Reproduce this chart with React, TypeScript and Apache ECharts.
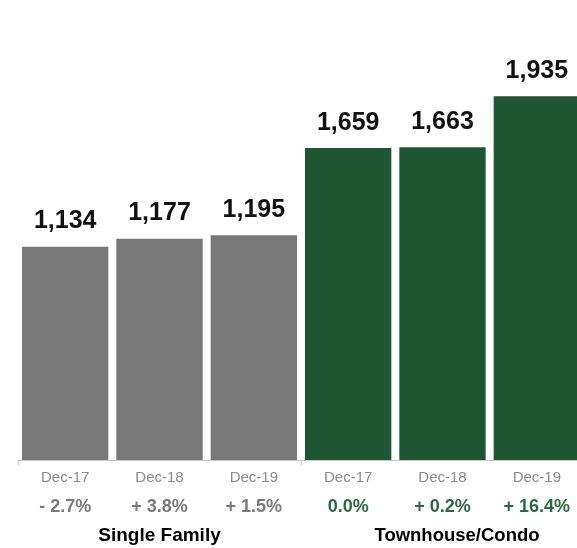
import React, { useEffect, useRef } from "react";
import * as echarts from "echarts";

const categories = ["Dec-17", "Dec-18", "Dec-19", "Dec-17", "Dec-18", "Dec-19"];
const values = [1134, 1177, 1195, 1659, 1663, 1935];
const changes = ["- 2.7%", "+ 3.8%", "+ 1.5%", "0.0%", "+ 0.2%", "+ 16.4%"];
const groups = ["Single Family", "Townhouse/Condo"];
const groupSize = 3;

const GRAY = "#787878";
const GREEN = "#1e5532";
const FONT = "'Liberation Sans', Arial, Helvetica, sans-serif";

export default function App() {
  const ref = useRef<HTMLDivElement>(null);
  useEffect(() => {
    if (!ref.current) return;
    const chart = echarts.init(ref.current, null, { renderer: "svg" });
    chart.setOption({
      animation: false,
      textStyle: { fontFamily: FONT },
      grid: { left: 18, right: 0, top: 84, bottom: 88, containLabel: false },
      xAxis: [
        {
          type: "category",
          data: categories,
          boundaryGap: true,
          axisLine: { show: true, lineStyle: { color: "#c8c8c8", width: 1 } },
          axisTick: {
            show: true,
            length: 5,
            interval: (i: number) => i % groupSize === 0,
            lineStyle: { color: "#c8c8c8" },
          },
          axisLabel: {
            interval: 0,
            margin: 2,
            formatter: (v: string, i: number) =>
              `{d|${v}}\n{${i < groupSize ? "pg" : "pn"}|${changes[i]}}`,
            rich: {
              d: { fontSize: 15, color: "#8a8a8a", lineHeight: 29, fontFamily: FONT },
              pg: { fontSize: 18, fontWeight: "bold", color: "#7a7a7a", lineHeight: 29, fontFamily: FONT },
              pn: { fontSize: 18, fontWeight: "bold", color: "#2b6a3d", lineHeight: 29, fontFamily: FONT },
            },
          },
        },
        {
          type: "category",
          data: groups,
          position: "bottom",
          offset: 60,
          axisLine: { show: false },
          axisTick: { show: false },
          axisLabel: {
            interval: 0,
            margin: 3,
            formatter: (v: string, i: number) => (i === 0 ? `{a|${v}}` : `{b|${v}}`),
            rich: {
              a: { fontSize: 19, fontWeight: "bold", color: "#000", lineHeight: 22, fontFamily: FONT },
              b: { fontSize: 18.5, fontWeight: "bold", color: "#000", lineHeight: 22, fontFamily: FONT, padding: [0, 0, 0, 29] },
            },
          },
        },
      ],
      yAxis: {
        type: "value",
        min: 0,
        max: 2000,
        show: false,
        splitLine: { show: false },
      },
      series: [
        {
          type: "bar",
          xAxisIndex: 0,
          barCategoryGap: "8.5%",
          data: values.map((v, i) => ({
            value: v,
            itemStyle: { color: i < groupSize ? GRAY : GREEN },
          })),
          label: {
            show: true,
            position: "top",
            distance: 15,
            fontSize: 25,
            fontWeight: "bold",
            color: "#111",
            fontFamily: FONT,
            formatter: (p: any) => Number(p.value).toLocaleString("en-US"),
          },
        },
      ],
    });
    return () => chart.dispose();
  }, []);
  return (
    <div
      style={{ position: "fixed", left: 0, top: 0, width: 577, height: 548, overflow: "hidden" }}
    >
      <div ref={ref} style={{ width: 584, height: 548 }} />
    </div>
  );
}
